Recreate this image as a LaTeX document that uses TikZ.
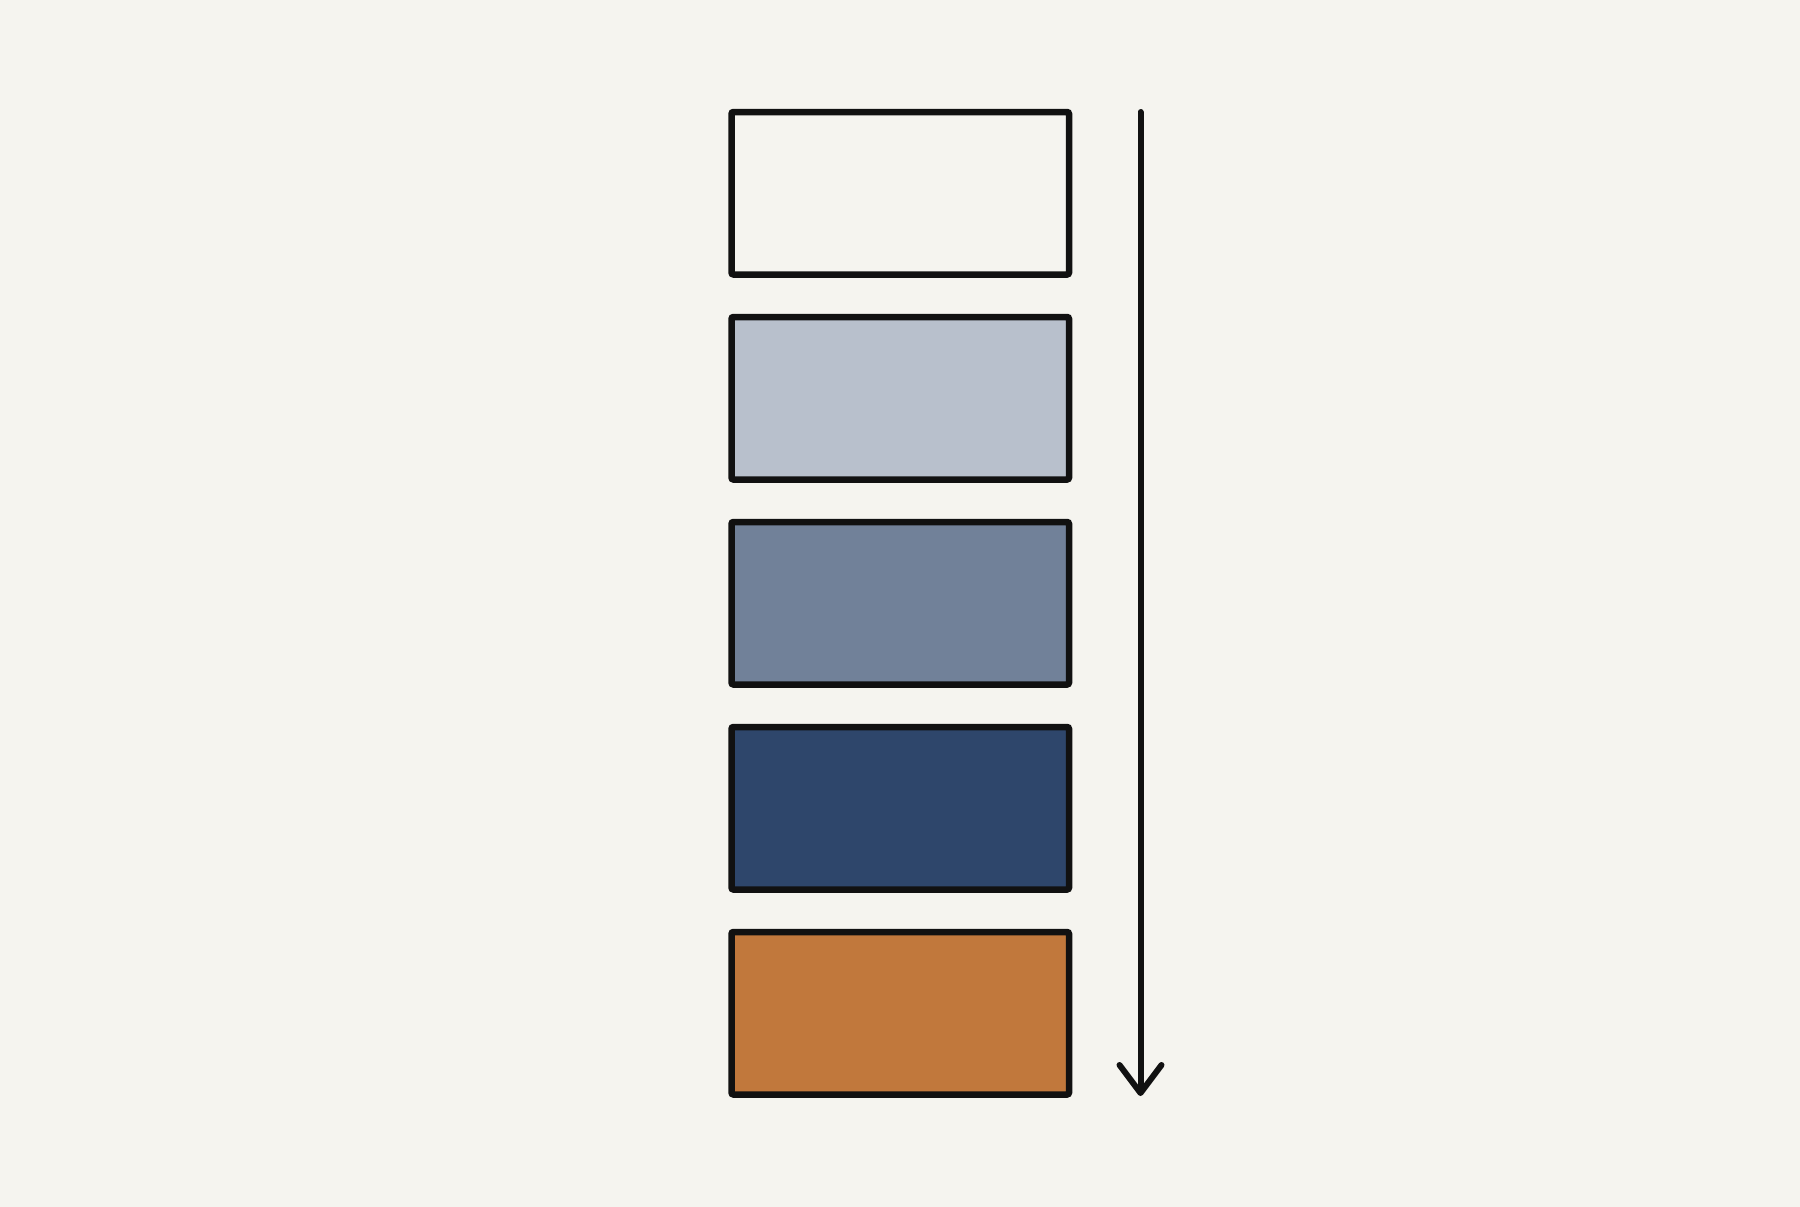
\documentclass[tikz,border=0pt]{standalone}
\usetikzlibrary{arrows.meta}
\definecolor{bg}{HTML}{F5F4EF}
\definecolor{ink}{HTML}{111111}
\definecolor{shadeA}{HTML}{B8C0CC}
\definecolor{shadeB}{HTML}{718199}
\definecolor{shadeC}{HTML}{2E466B}
\definecolor{shadeD}{HTML}{C1783C}
\begin{document}
\begin{tikzpicture}[x=1pt,y=-1pt,
  level/.style={draw=ink, line width=6.5pt, rectangle, rounded corners=2pt,
    minimum width=337.5pt, minimum height=162.5pt, inner sep=0pt, outer sep=0pt},
  flow/.style={draw=ink, line width=6pt, line cap=round, line join=round,
    -{Straight Barb[length=28pt,width=42pt,line cap=round,line join=round]}}]
\fill[bg] (0,0) rectangle (1800,1207);
\useasboundingbox (0,0) rectangle (1800,1207);
\node[level, fill=bg]     (b1) at (900.25,193.25)  {};
\node[level, fill=shadeA] (b2) at (900.25,398.25)  {};
\node[level, fill=shadeB] (b3) at (900.25,603.25)  {};
\node[level, fill=shadeC] (b4) at (900.25,808.25)  {};
\node[level, fill=shadeD] (b5) at (900.25,1013.25) {};
\coordinate (atop) at (1140.5,112);
\coordinate (abot) at (1140.5,1096);
\draw[flow] (atop) -- (abot);
\end{tikzpicture}
\end{document}
